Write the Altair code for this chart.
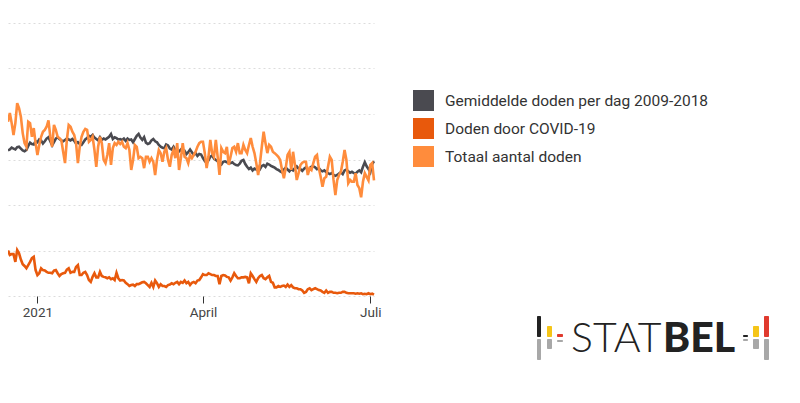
import pandas as pd
import altair as alt

# Daily deaths, one value per day starting 16 Dec 2020
start_date = "2020-12-16"

gemiddelde = [
    320, 322, 326, 324, 322, 327, 328, 324, 320, 318,
    321, 330, 337, 334, 333, 340, 338, 344, 342, 335,
    340, 346, 349, 340, 331, 338, 346, 349, 345, 342,
    340, 343, 346, 344, 342, 345, 341, 335, 338, 334,
    332, 338, 344, 347, 352, 350, 354, 348, 345, 342,
    349, 343, 346, 344, 347, 350, 356, 345, 349, 347,
    344, 345, 343, 346, 341, 346, 343, 344, 338, 345,
    352, 356, 348, 343, 349, 337, 334, 336, 342, 345,
    340, 338, 332, 328, 326, 325, 333, 331, 324, 322,
    328, 320, 314, 318, 322, 316, 319, 312, 316, 322,
    316, 310, 314, 308, 312, 311, 303, 297, 292, 298,
    306, 309, 302, 299, 296, 291, 289, 295, 296, 294,
    293, 292, 294, 290, 288, 287, 291, 297, 299, 290,
    284, 279, 282, 276, 280, 278, 283, 279, 286, 288,
    284, 291, 289, 286, 284, 282, 279, 277, 274, 272,
    278, 282, 278, 274, 279, 276, 281, 285, 280, 279,
    275, 280, 283, 277, 280, 284, 285, 283, 279, 281,
    276, 274, 276, 272, 270, 268, 270, 266, 264, 266,
    269, 272, 268, 276, 278, 274, 271, 273, 270, 269,
    273, 276, 272, 284, 294, 285, 279, 272, 290, 296,
]

covid = [
    100, 90, 92, 92, 75, 101, 94, 80, 70, 66,
    61, 68, 75, 83, 86, 57, 46, 50, 61, 57,
    56, 53, 51, 51, 50, 56, 57, 50, 44, 48,
    50, 51, 58, 61, 51, 53, 53, 64, 68, 46,
    46, 51, 53, 46, 35, 31, 42, 50, 41, 41,
    53, 44, 42, 41, 39, 41, 37, 39, 35, 51,
    39, 34, 35, 34, 29, 26, 22, 24, 25, 22,
    26, 26, 28, 30, 31, 28, 24, 20, 29, 20,
    34, 28, 20, 26, 22, 22, 20, 24, 25, 28,
    26, 29, 31, 26, 31, 29, 34, 28, 31, 24,
    29, 31, 28, 34, 35, 41, 48, 46, 46, 50,
    48, 46, 46, 44, 44, 26, 44, 46, 45, 42,
    41, 34, 41, 50, 44, 39, 39, 41, 41, 42,
    41, 28, 50, 44, 37, 31, 39, 44, 46, 39,
    37, 41, 44, 31, 29, 19, 19, 22, 20, 22,
    23, 20, 25, 20, 24, 19, 17, 17, 15, 15,
    12, 7, 9, 15, 17, 13, 15, 17, 15, 13,
    12, 9, 7, 12, 7, 9, 9, 7, 7, 6,
    7, 7, 9, 9, 7, 6, 6, 6, 6, 5,
    6, 5, 6, 4, 5, 4, 6, 4, 5, 3,
]

totaal = [
    383, 402, 380, 354, 380, 424, 413, 394, 358, 336,
    328, 383, 380, 350, 369, 336, 310, 332, 350, 361,
    365, 372, 386, 350, 328, 376, 365, 350, 347, 342,
    317, 292, 343, 376, 372, 361, 354, 336, 292, 328,
    350, 361, 367, 365, 339, 343, 350, 321, 284, 328,
    350, 336, 299, 292, 310, 336, 288, 325, 336, 332,
    339, 334, 339, 328, 325, 336, 321, 277, 299, 332,
    328, 303, 306, 303, 281, 306, 306, 295, 303, 295,
    266, 299, 321, 314, 295, 317, 325, 299, 284, 310,
    321, 303, 336, 277, 303, 336, 306, 303, 292, 310,
    303, 310, 317, 328, 336, 339, 339, 314, 281, 306,
    343, 314, 306, 343, 306, 266, 325, 317, 314, 328,
    288, 306, 325, 328, 317, 336, 314, 314, 332, 321,
    314, 332, 347, 328, 314, 292, 266, 292, 328, 361,
    336, 314, 332, 328, 317, 314, 310, 306, 299, 277,
    259, 281, 310, 317, 277, 317, 288, 255, 270, 288,
    293, 295, 295, 266, 281, 277, 292, 306, 310, 281,
    262, 240, 259, 262, 284, 306, 299, 255, 222, 255,
    266, 273, 295, 321, 299, 248, 255, 251, 251, 270,
    244, 237, 217, 251, 270, 262, 254, 288, 292, 254,
]

series_names = ['Gemiddelde doden per dag 2009-2018', 'Doden door COVID-19', 'Totaal aantal doden']
series_colors = ['#4a4a50', '#e8590c', '#ff8c3c']
y_ticks = [0, 100, 200, 300, 400, 500, 600]

dates = pd.date_range(start_date, periods=len(totaal), freq='D')
data = pd.concat([
    pd.DataFrame({'datum': dates, 'doden': values, 'reeks': name})
    for name, values in zip(series_names, [gemiddelde, covid, totaal])
])

# One row, so each logo mark is drawn once
one_row = pd.DataFrame({'logo': [1]})

color_scale = alt.Scale(domain=series_names, range=series_colors)

lines = alt.Chart(data).mark_line(strokeWidth=2.6, interpolate='linear').encode(
    x=alt.X(
        'datum:T',
        title=None,
        scale=alt.Scale(domain=[alt.DateTime(year=2020, month=12, date=16),
                                alt.DateTime(year=2021, month=7, date=3)]),
        axis=alt.Axis(
            values=[alt.DateTime(year=2021, month=1, date=1),
                    alt.DateTime(year=2021, month=4, date=1),
                    alt.DateTime(year=2021, month=7, date=1)],
            labelExpr="month(datum.value) == 0 ? '2021' : month(datum.value) == 3 ? 'April' : 'Juli'",
            grid=False,
            domain=False,
            tickColor='#333333',
            tickSize=7,
            labelPadding=2,
            labelFont='Roboto',
            labelFontSize=13.5,
            labelColor='#444444',
            labelBound=False,
            labelFlush=False,
        ),
    ),
    y=alt.Y(
        'doden:Q',
        title=None,
        scale=alt.Scale(domain=[0, 600]),
        axis=alt.Axis(
            values=y_ticks,
            labels=False,
            ticks=False,
            domain=False,
            grid=True,
            gridColor='#dcdcdc',
            gridDash=[2, 3],
        ),
    ),
    color=alt.Color('reeks:N', title=None, sort=series_names, scale=color_scale, legend=None),
    order=alt.Order('datum:T'),
)

# Squares of size 0: they only exist to give the legend filled symbols
legend_layer = alt.Chart(pd.DataFrame({'reeks': series_names})).mark_square(size=0).encode(
    color=alt.Color(
        'reeks:N',
        title=None,
        sort=series_names,
        scale=color_scale,
        legend=alt.Legend(
            orient='none',
            legendX=405,
            legendY=67,
            symbolType='square',
            symbolSize=441,
            symbolStrokeWidth=0,
            symbolOpacity=1,
            labelFont='Roboto',
            labelFontSize=15.5,
            labelColor='#333333',
            labelLimit=400,
            labelOffset=11,
            rowPadding=7,
        ),
    ),
)


def logo_bar(x0, x1, y0, y1, color):
    # coordinates are the plot area's pixels, the logo is no data
    return alt.Chart(one_row).mark_rect(color=color, cornerRadius=1).encode(
        x=alt.value(x0), x2=alt.value(x1), y=alt.value(y0), y2=alt.value(y1)
    )


def logo_text(text, x, weight):
    return alt.Chart(one_row).mark_text(
        text=text, font='Lato', fontSize=41, fontWeight=weight, color='#222222',
        align='left', baseline='alphabetic'
    ).encode(x=alt.value(x), y=alt.value(329))


logo_parts = [
    logo_bar(529, 533, 293, 314, '#222222'),
    logo_bar(529, 533, 316, 337, '#a8a8a8'),
    logo_bar(539, 544, 303, 314, '#f5c518'),
    logo_bar(539, 544, 316, 326, '#a8a8a8'),
    logo_bar(549, 555, 311, 314, '#e03a2e'),
    logo_bar(549, 555, 317, 319, '#a8a8a8'),
    logo_bar(735, 740, 312, 314, '#222222'),
    logo_bar(735, 740, 316, 318, '#a8a8a8'),
    logo_bar(745, 751, 303, 314, '#f5c518'),
    logo_bar(745, 751, 316, 326, '#a8a8a8'),
    logo_bar(756, 761, 293, 314, '#e03a2e'),
    logo_bar(756, 761, 316, 337, '#a8a8a8'),
    logo_text('STAT', 563, 300),
    logo_text('BEL', 655, 900),
]

chart = alt.layer(lines, legend_layer, *logo_parts).resolve_legend(color='independent').properties(
    width=366,
    height=273,
    autosize=alt.AutoSizeParams(type='none'),
    padding={'left': 0, 'top': 15, 'right': 400, 'bottom': 85},
).configure_view(stroke=None)

chart.save("out.html", embed_options={"renderer": "svg", "actions": False})
